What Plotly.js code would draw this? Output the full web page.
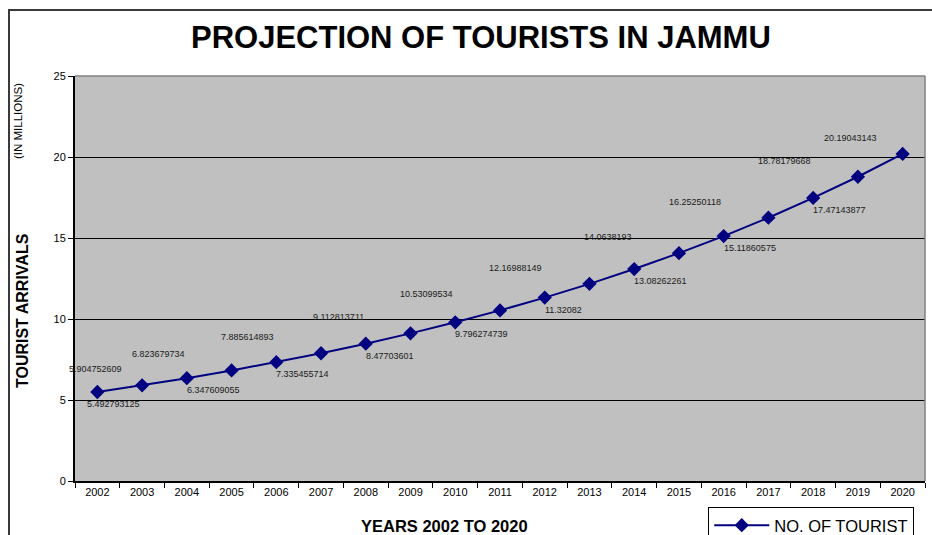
<!DOCTYPE html>
<html>
<head>
<meta charset="utf-8">
<script src="https://cdn.plot.ly/plotly-3.0.1.min.js"></script>
<style>
  html, body { margin: 0; padding: 0; background: #fff; overflow: hidden; }
  #chart { position: absolute; left: 0; top: 0; width: 932px; height: 535px; }
  #frame { position: absolute; left: 8px; top: 9px; width: 940px; height: 600px;
           border-left: 2px solid #3a3a3a; border-top: 2px solid #3a3a3a; pointer-events: none; }
</style>
</head>
<body>
<div id="chart"></div>
<div id="frame"></div>
<script>
const years = ['2002','2003','2004','2005','2006','2007','2008','2009','2010','2011',
               '2012','2013','2014','2015','2016','2017','2018','2019','2020'];
const tourists = [5.492793125, 5.904752609, 6.347609055, 6.823679734, 7.335455714,
                  7.885614893, 8.47703601, 9.112813711, 9.796274739, 10.53099534,
                  11.32082, 12.16988149, 13.08262261, 14.0638193, 15.11860575,
                  16.25250118, 17.47143877, 18.78179668, 20.19043143];
const labelText = ['5.492793125','5.904752609','6.347609055','6.823679734','7.335455714',
                   '7.885614893','8.47703601','9.112813711','9.796274739','10.53099534',
                   '11.32082','12.16988149','13.08262261','14.0638193','15.11860575',
                   '16.25250118','17.47143877','18.78179668','20.19043143'];
const seriesName = 'NO. OF TOURIST';

const FONT = 'Liberation Sans, Arial, sans-serif';
const navy = '#000080';

const trace = {
  x: years, y: tourists, type: 'scatter', mode: 'lines+markers', name: seriesName,
  line: {color: navy, width: 2},
  marker: {symbol: 'diamond', size: 11, color: navy},
  cliponaxis: false
};

const annotations = [];
const last = years.length - 1;
years.forEach((yr, i) => {
  const above = (i % 2 === 1) || i === last;
  let a = {
    x: i, y: tourists[i], xref: 'x', yref: 'y', text: labelText[i], showarrow: false,
    font: {family: FONT, size: 9, color: '#1a1a1a'}, yanchor: 'middle'
  };
  if (above) {
    a.xanchor = 'right'; a.yshift = 16;
    a.xshift = (i === 1) ? -18 : (i === last ? -24 : -45);
  } else {
    a.xanchor = 'left'; a.yshift = -12;
    a.xshift = (i === 0) ? -12 : -2;
  }
  annotations.push(a);
});

annotations.push({
  text: 'TOURIST ARRIVALS', xref: 'paper', yref: 'paper', x: -0.0624, y: 0.422,
  xanchor: 'center', yanchor: 'middle', textangle: -90, showarrow: false,
  font: {family: FONT, size: 16, color: '#000', weight: 'bold'}
});
annotations.push({
  text: '(IN MILLIONS)', xref: 'paper', yref: 'paper', x: -0.067, y: 0.889,
  xanchor: 'center', yanchor: 'middle', textangle: -90, showarrow: false,
  font: {family: FONT, size: 11.5, color: '#000'}
});
annotations.push({
  text: 'YEARS 2002 TO 2020', xref: 'paper', yref: 'paper', x: 0.435, y: -0.111,
  xanchor: 'center', yanchor: 'middle', showarrow: false,
  font: {family: FONT, size: 16.5, color: '#000', weight: 'bold'}
});

const layout = {
  width: 932, height: 535,
  margin: {l: 75, r: 7, t: 76, b: 54, pad: 0, autoexpand: false},
  paper_bgcolor: '#ffffff', plot_bgcolor: '#c0c0c0',
  font: {family: FONT, color: '#000'},
  title: {
    text: 'PROJECTION OF TOURISTS IN JAMMU', xref: 'container', yref: 'container',
    x: 0.516, xanchor: 'center', y: 0.931, yanchor: 'middle',
    font: {family: FONT, size: 31, color: '#000', weight: 'bold'}
  },
  xaxis: {
    type: 'category', tickson: 'boundaries', ticks: 'outside', ticklen: 5, tickcolor: '#000',
    showline: true, linecolor: '#000', linewidth: 2, showgrid: false,
    tickfont: {family: FONT, size: 11, color: '#000'}, range: [-0.5, 18.5]
  },
  yaxis: {
    range: [0, 25], dtick: 5, ticks: 'outside', ticklen: 5, tickcolor: '#000',
    showline: true, linecolor: '#000', linewidth: 2,
    showgrid: true, gridcolor: '#000', gridwidth: 1, zeroline: false,
    tickfont: {family: FONT, size: 11, color: '#000'}
  },
  shapes: [
    {type: 'line', xref: 'paper', yref: 'paper', x0: 0, x1: 1, y0: 1, y1: 1,
     line: {color: '#808080', width: 1.5}},
    {type: 'line', xref: 'paper', yref: 'paper', x0: 1, x1: 1, y0: 0, y1: 1,
     line: {color: '#808080', width: 1.5}}
  ],
  showlegend: true,
  legend: {
    x: 0.745, y: -0.064, xanchor: 'left', yanchor: 'top', xref: 'paper', yref: 'paper',
    bordercolor: '#000', borderwidth: 1, bgcolor: '#fff', itemwidth: 55,
    font: {family: FONT, size: 16.5, color: '#000'}, tracegroupgap: 0
  },
  annotations: annotations
};

Plotly.newPlot('chart', [trace], layout, {displayModeBar: false, staticPlot: true});
</script>
</body>
</html>
